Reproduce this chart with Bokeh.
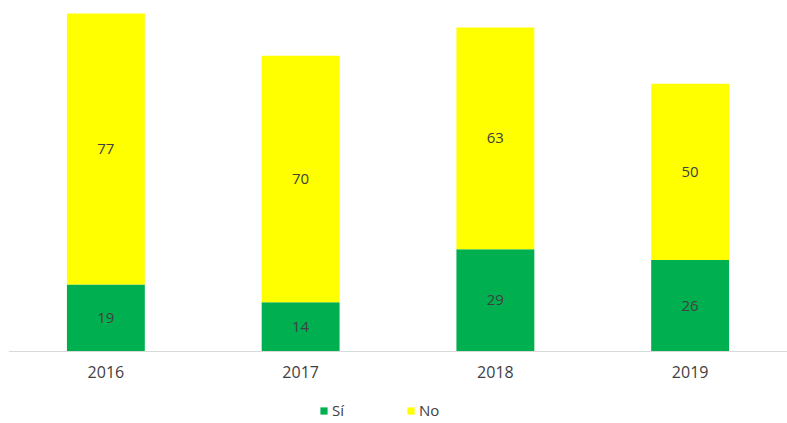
from bokeh.plotting import figure
from bokeh.models import (ColumnDataSource, FactorRange, Range1d, LabelSet, Legend,
                          LegendItem, CategoricalAxis)
from bokeh.core.properties import value
from bokeh.embed import file_html
from bokeh.resources import INLINE

years = ["2016", "2017", "2018", "2019"]
si = [19, 14, 29, 26]
no = [77, 70, 63, 50]

GREEN = "#00B050"
YELLOW = "#FFFF00"
TEXT = "#404040"
FONT = "Open Sans"

src = ColumnDataSource(dict(
    x=years, si=si, no=no,
    si_mid=[s / 2 for s in si],
    no_mid=[s + n / 2 for s, n in zip(si, no)],
    si_lbl=[str(s) for s in si],
    no_lbl=[str(n) for n in no],
))

p = figure(x_range=FactorRange(factors=years, start=0, end=3.944),
           y_range=Range1d(-20.45, 97.4),
           x_axis_location=None, y_axis_location=None,
           frame_width=779, frame_height=415, output_backend="svg", toolbar_location=None,
           min_border_left=8, min_border_right=0, min_border_top=8, min_border_bottom=0)

r = p.vbar_stack(["si", "no"], x="x", width=0.4, source=src,
                 color=[GREEN, YELLOW], line_color=None)

for ycol, tcol in (("si_mid", "si_lbl"), ("no_mid", "no_lbl")):
    p.add_layout(LabelSet(x="x", y=ycol, text=tcol, source=src, text_align="center",
                          text_baseline="middle", text_font=value(FONT),
                          text_font_size="15px", text_color=TEXT))

xaxis = CategoricalAxis(fixed_location=0,
                        axis_line_color="#D9D9D9",
                        major_tick_line_color=None, minor_tick_line_color=None,
                        major_tick_out=0, major_tick_in=0,
                        major_label_text_font=FONT, major_label_text_font_size="16px",
                        major_label_text_color=TEXT, major_label_standoff=15)
p.add_layout(xaxis, "below")

p.xgrid.grid_line_color = None
p.ygrid.grid_line_color = None
p.outline_line_color = None

legend = Legend(items=[LegendItem(label="Sí", renderers=[r[0]]),
                       LegendItem(label="No", renderers=[r[1]])],
                orientation="horizontal", location=(311, 3),
                glyph_width=9, glyph_height=9, label_standoff=4, spacing=54,
                label_text_font=FONT, label_text_font_size="15px", label_text_color=TEXT,
                border_line_color=None, background_fill_alpha=0, padding=0, margin=0)
p.add_layout(legend, "center")

open("out.html", "w").write(file_html(p, INLINE))
